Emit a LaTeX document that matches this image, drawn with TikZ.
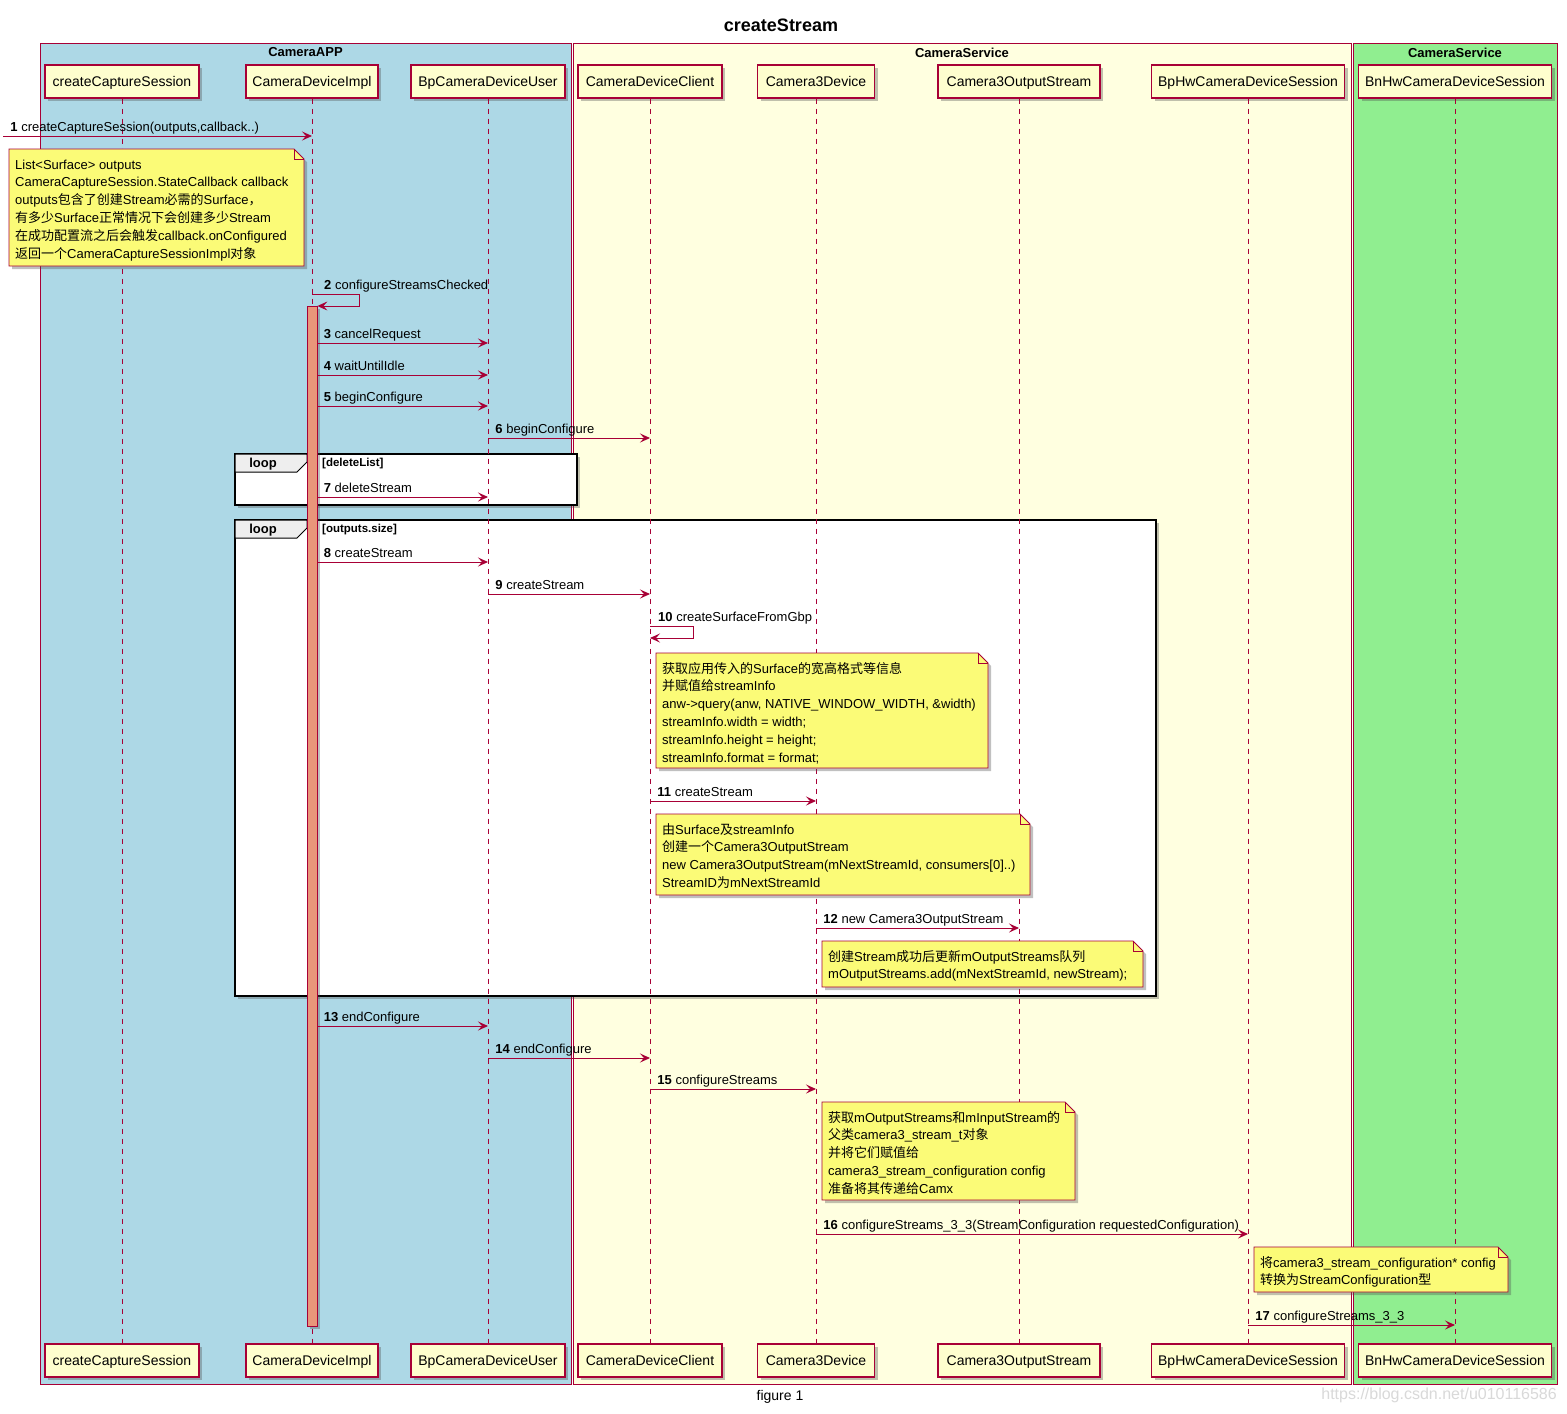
\documentclass[tikz,border=0pt]{standalone}
\usepackage{fontspec}
\setmainfont{Liberation Sans}
\newfontfamily\cjk{Noto Sans CJK SC}
\newcommand\zh[1]{{\cjk #1}}
\usetikzlibrary{arrows.meta,shadows}
\definecolor{pu}{HTML}{A80036}
\definecolor{partfill}{HTML}{FEFECE}
\definecolor{notefill}{HTML}{FBFB77}
\definecolor{boxblue}{HTML}{ADD8E6}
\definecolor{boxyellow}{HTML}{FFFFE0}
\definecolor{boxgreen}{HTML}{90EE90}
\definecolor{actfill}{HTML}{E9967A}
\definecolor{tabfill}{HTML}{EEEEEE}
\tikzset{
  shad/.style={drop shadow={shadow xshift=3pt,shadow yshift=-3pt,opacity=0.35,fill=black!70}},
  part/.style={draw=pu, line width=1.2pt, fill=partfill, minimum height=33pt, inner sep=0pt,
    text height=11pt, text depth=2pt,
    font=\fontsize{14}{16}\selectfont, shad},
  life/.style={draw=pu, line width=0.8pt, dash pattern=on 5pt off 5pt},
  msg/.style={draw=pu, line width=0.9pt, -{Stealth[length=10pt,width=9pt,inset=4pt]}},
  lbl/.style={font=\fontsize{13}{15}\selectfont, inner sep=0pt, anchor=base west, text=black},
  boxtitle/.style={font=\bfseries\fontsize{13}{15}\selectfont, inner sep=0pt},
  boxframe/.style={draw=pu, line width=0.8pt},
  loopframe/.style={draw=black, line width=1.6pt, fill=white, shad},
  looptab/.style={draw=black, line width=1pt, fill=tabfill},
  looplbl/.style={font=\bfseries\fontsize{13}{15}\selectfont, inner sep=0pt},
  loopcond/.style={font=\bfseries\fontsize{11.5}{13}\selectfont, inner sep=0pt, anchor=west},
  notepath/.style={draw=pu, fill=notefill, line width=0.8pt, shad},
  notetxt/.style={font=\fontsize{13}{17.8}\selectfont, inner sep=0pt, anchor=base west},
  actbar/.style={draw=pu, fill=actfill, line width=0.8pt, inner sep=0pt, minimum width=10pt, anchor=north, shad},
}
\newcommand\notebox[6]{%
  \path[notepath] (#2,#3) -- (#4-10,#3) -- (#4,#3+10) -- (#4,#5) -- (#2,#5) -- cycle;
  \draw[pu, line width=0.8pt] (#4-10,#3) -- (#4-10,#3+10) -- (#4,#3+10);
  \node[notetxt] (#1) at (#2+6,#3+20) {\begin{tabular}[t]{@{}l@{}}#6\end{tabular}};%
}
\begin{document}
\begin{tikzpicture}[x=1pt,y=-1pt]
\useasboundingbox[fill=white] (0,0) rectangle (1567,1414);
\node[font=\bfseries\fontsize{18}{20}\selectfont, inner sep=0pt] (title) at (781,25) {createStream};
% boxes
\path[boxframe, fill=boxblue] (40,43) rectangle (571,1384);
\path[boxframe, fill=boxyellow] (573,43) rectangle (1351,1384);
\path[boxframe, fill=boxgreen] (1353,43) rectangle (1557,1384);
\node[boxtitle] (appT) at (305.5,52.5) {CameraAPP};
\node[boxtitle] (svcT) at (962,52.5) {CameraService};
\node[boxtitle] (hwT) at (1455,52.5) {CameraService};
% loops
\path[loopframe] (235,454) rectangle (577,505);
\path[looptab] (235,454) -- (307,454) -- (307,462) -- (297,472) -- (235,472) -- cycle;
\node[looplbl] (loop1) at (263,464) {loop};
\node[loopcond] (cond1) at (322,464) {[deleteList]};
\path[loopframe] (235,520) rectangle (1156,996);
\path[looptab] (235,520) -- (307,520) -- (307,528) -- (297,538) -- (235,538) -- cycle;
\node[looplbl] (loop2) at (263,530) {loop};
\node[loopcond] (cond2) at (322,530) {[outputs.size]};
% participants
\node[part, minimum width=154pt] (cs) at (122,81.5) {createCaptureSession};
\node[part, minimum width=132pt] (impl) at (312,81.5) {CameraDeviceImpl};
\node[part, minimum width=154pt] (user) at (488,81.5) {BpCameraDeviceUser};
\node[part, minimum width=144pt] (client) at (650,81.5) {CameraDeviceClient};
\node[part, minimum width=117pt] (dev) at (816,81.5) {Camera3Device};
\node[part, minimum width=162pt] (ostream) at (1019,81.5) {Camera3OutputStream};
\node[part, minimum width=193pt] (bphw) at (1248,81.5) {BpHwCameraDeviceSession};
\node[part, minimum width=193pt] (bnhw) at (1455,81.5) {BnHwCameraDeviceSession};
\node[part, minimum width=154pt] (csB) at (122,1360.5) {createCaptureSession};
\node[part, minimum width=132pt] (implB) at (312,1360.5) {CameraDeviceImpl};
\node[part, minimum width=154pt] (userB) at (488,1360.5) {BpCameraDeviceUser};
\node[part, minimum width=144pt] (clientB) at (650,1360.5) {CameraDeviceClient};
\node[part, minimum width=117pt] (devB) at (816,1360.5) {Camera3Device};
\node[part, minimum width=162pt] (ostreamB) at (1019,1360.5) {Camera3OutputStream};
\node[part, minimum width=193pt] (bphwB) at (1248,1360.5) {BpHwCameraDeviceSession};
\node[part, minimum width=193pt] (bnhwB) at (1455,1360.5) {BnHwCameraDeviceSession};
% lifelines
\draw[life] (cs.south) -- (csB.north);
\draw[life] (impl.south) -- (implB.north);
\draw[life] (user.south) -- (userB.north);
\draw[life] (client.south) -- (clientB.north);
\draw[life] (dev.south) -- (devB.north);
\draw[life] (ostream.south) -- (ostreamB.north);
\draw[life] (bphw.south) -- (bphwB.north);
\draw[life] (bnhw.south) -- (bnhwB.north);
% activation
\node[actbar, minimum height=1020pt] (act) at (312,306) {};
% messages
\coordinate (start1) at (3,136);
\draw[msg] (start1) -- (impl |- 0,136)
  node[lbl, pos=0, xshift=7pt, yshift=5pt] (l1) {\textbf{1} createCaptureSession(outputs,callback..)};
\notebox{n1}{9}{149}{304}{266}{List<Surface> outputs\\
CameraCaptureSession.StateCallback callback\\
outputs\zh{包含了创建}Stream\zh{必需的}Surface\zh{，}\\
\zh{有多少}Surface\zh{正常情况下会创建多少}Stream\\
\zh{在成功配置流之后会触发}callback.onConfigured\\
\zh{返回一个}CameraCaptureSessionImpl\zh{对象}}
\draw[msg] (impl |- 0,294) -- ++(47,0) -- ++(0,12) -- (act.east |- 0,306);
\node[lbl] (l2) at (324,289) {\textbf{2} configureStreamsChecked};
\draw[msg] (act.east |- 0,343) -- (user |- 0,343)
  node[lbl, pos=0, xshift=6pt, yshift=5pt] (l3) {\textbf{3} cancelRequest};
\draw[msg] (act.east |- 0,375) -- (user |- 0,375)
  node[lbl, pos=0, xshift=6pt, yshift=5pt] (l4) {\textbf{4} waitUntilIdle};
\draw[msg] (act.east |- 0,406) -- (user |- 0,406)
  node[lbl, pos=0, xshift=6pt, yshift=5pt] (l5) {\textbf{5} beginConfigure};
\draw[msg] (user |- 0,438) -- (client |- 0,438)
  node[lbl, pos=0, xshift=7pt, yshift=5pt] (l6) {\textbf{6} beginConfigure};
\draw[msg] (act.east |- 0,497) -- (user |- 0,497)
  node[lbl, pos=0, xshift=6pt, yshift=5pt] (l7) {\textbf{7} deleteStream};
\draw[msg] (act.east |- 0,562) -- (user |- 0,562)
  node[lbl, pos=0, xshift=6pt, yshift=5pt] (l8) {\textbf{8} createStream};
\draw[msg] (user |- 0,594) -- (client |- 0,594)
  node[lbl, pos=0, xshift=7pt, yshift=5pt] (l9) {\textbf{9} createStream};
\draw[msg] (client |- 0,626) -- ++(43,0) -- ++(0,12) -- (client |- 0,638);
\node[lbl] (l10) at (658,621) {\textbf{10} createSurfaceFromGbp};
\notebox{n10}{656}{653}{988}{768}{\zh{获取应用传入的}Surface\zh{的宽高格式等信息}\\
\zh{并赋值给}streamInfo\\
anw->query(anw, NATIVE\_WINDOW\_WIDTH, \&width)\\
streamInfo.width = width;\\
streamInfo.height = height;\\
streamInfo.format = format;}
\draw[msg] (client |- 0,801) -- (dev |- 0,801)
  node[lbl, pos=0, xshift=7pt, yshift=5pt] (l11) {\textbf{11} createStream};
\notebox{n11}{656}{814}{1030}{895}{\zh{由}Surface\zh{及}streamInfo\\
\zh{创建一个}Camera3OutputStream\\
new Camera3OutputStream(mNextStreamId, consumers[0]..)\\
StreamID\zh{为}mNextStreamId}
\draw[msg] (dev |- 0,928) -- (ostream |- 0,928)
  node[lbl, pos=0, xshift=7pt, yshift=5pt] (l12) {\textbf{12} new Camera3OutputStream};
\notebox{n12}{822}{941}{1143}{987}{\zh{创建}Stream\zh{成功后更新}mOutputStreams\zh{队列}\\
mOutputStreams.add(mNextStreamId, newStream);}
\draw[msg] (act.east |- 0,1026) -- (user |- 0,1026)
  node[lbl, pos=0, xshift=6pt, yshift=5pt] (l13) {\textbf{13} endConfigure};
\draw[msg] (user |- 0,1058) -- (client |- 0,1058)
  node[lbl, pos=0, xshift=7pt, yshift=5pt] (l14) {\textbf{14} endConfigure};
\draw[msg] (client |- 0,1089) -- (dev |- 0,1089)
  node[lbl, pos=0, xshift=7pt, yshift=5pt] (l15) {\textbf{15} configureStreams};
\notebox{n15}{822}{1102}{1075}{1200}{\zh{获取}mOutputStreams\zh{和}mInputStream\zh{的}\\
\zh{父类}camera3\_stream\_t\zh{对象}\\
\zh{并将它们赋值给}\\
camera3\_stream\_configuration config\\
\zh{准备将其传递给}Camx}
\draw[msg] (dev |- 0,1234) -- (bphw |- 0,1234)
  node[lbl, pos=0, xshift=7pt, yshift=5pt] (l16) {\textbf{16} configureStreams\_3\_3(StreamConfiguration requestedConfiguration)};
\notebox{n16}{1254}{1247}{1508}{1292}{\zh{将}camera3\_stream\_configuration* config\\
\zh{转换为}StreamConfiguration\zh{型}}
\draw[msg] (bphw |- 0,1325) -- (bnhw |- 0,1325)
  node[lbl, pos=0, xshift=7pt, yshift=5pt] (l17) {\textbf{17} configureStreams\_3\_3};
% footer
\node[font=\fontsize{14}{16}\selectfont, inner sep=0pt] (fig) at (780,1397) {figure 1};
\node[font=\fontsize{16}{18}\selectfont, inner sep=0pt, text=black!15, anchor=east] (wm) at (1557,1395) {https://blog.csdn.net/u010116586};
\end{tikzpicture}
\end{document}
